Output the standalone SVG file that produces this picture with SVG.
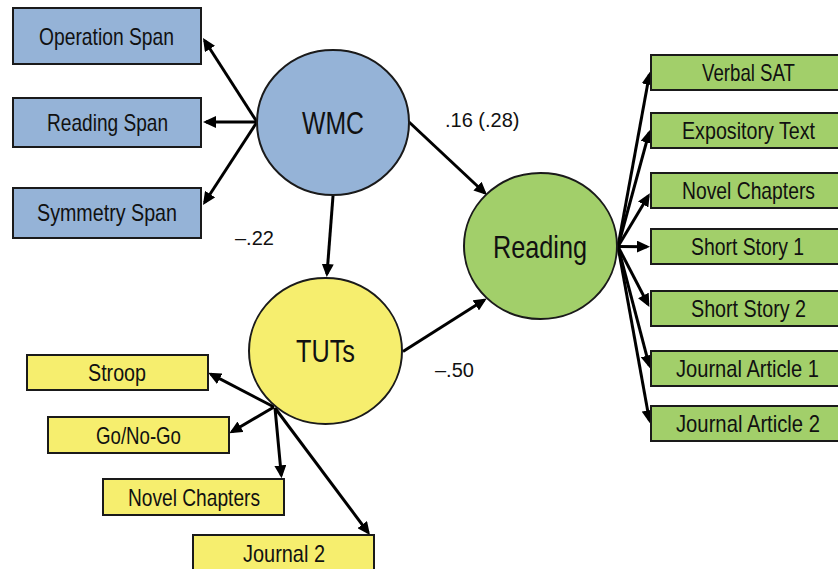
<svg xmlns="http://www.w3.org/2000/svg" width="838" height="569" viewBox="0 0 838 569">
<style>
.box{stroke:#1a1a1a;stroke-width:2}
.blue{fill:#95B3D7}
.yellow{fill:#F6EE6E}
.green{fill:#A2CF6A}
.circ{stroke:#1a1a1a;stroke-width:2}
.lbl{font-family:"Liberation Sans",Arial,sans-serif;font-size:24px;fill:#111}
.big{font-family:"Liberation Sans",Arial,sans-serif;font-size:32px;fill:#111}
.num{font-family:"Liberation Sans",Arial,sans-serif;font-size:20px;fill:#111}
.arr{stroke:#000;stroke-width:3;fill:none;marker-end:url(#ah)}
</style>
<defs>
<marker id="ah" viewBox="0 0 13 12" refX="10" refY="6" markerWidth="13" markerHeight="12" markerUnits="userSpaceOnUse" orient="auto">
<path d="M0,0 L13,6 L0,12 z" fill="#000"/>
</marker>
</defs>
<rect width="838" height="569" fill="#fff"/>
<g id="connectors">
<line class="arr" x1="257" y1="122" x2="204.6" y2="40.5"/>
<line class="arr" x1="257" y1="122" x2="206" y2="122"/>
<line class="arr" x1="257" y1="122" x2="204.6" y2="202.5"/>
<line class="arr" x1="333" y1="196" x2="327" y2="274"/>
<line class="arr" x1="409" y1="122" x2="484.8" y2="193"/>
<line class="arr" x1="403" y1="351.5" x2="484.2" y2="300"/>
<line class="arr" x1="274" y1="407" x2="210.9" y2="374.1"/>
<line class="arr" x1="274" y1="407" x2="231.9" y2="431.8"/>
<line class="arr" x1="275" y1="408" x2="281.3" y2="475.3"/>
<line class="arr" x1="275" y1="408" x2="368.2" y2="532.6"/>
<line class="arr" x1="618" y1="246.5" x2="649.4" y2="74.6"/>
<line class="arr" x1="618" y1="246.5" x2="649" y2="132.9"/>
<line class="arr" x1="618" y1="246.5" x2="648.3" y2="195.9"/>
<line class="arr" x1="618" y1="246.5" x2="647" y2="246.7"/>
<line class="arr" x1="618" y1="246.5" x2="648" y2="304.3"/>
<line class="arr" x1="618" y1="246.5" x2="649.2" y2="365.4"/>
<line class="arr" x1="618" y1="246.5" x2="649.4" y2="420.3"/>
</g>
<g id="wmc">
<ellipse class="circ blue" cx="333" cy="122.5" rx="76" ry="72.5"/>
<text class="big" x="302" y="133.5" textLength="62" lengthAdjust="spacingAndGlyphs">WMC</text>
</g>
<g id="tuts">
<ellipse class="circ yellow" cx="325.5" cy="351" rx="76.5" ry="73"/>
<text class="big" x="296" y="362" textLength="59" lengthAdjust="spacingAndGlyphs">TUTs</text>
</g>
<g id="reading">
<ellipse class="circ green" cx="540.5" cy="246" rx="76.5" ry="73"/>
<text class="big" x="493" y="257.5" textLength="94" lengthAdjust="spacingAndGlyphs">Reading</text>
</g>
<g id="operation-span">
<rect class="box blue" x="13" y="8" width="188" height="56"/>
<text class="lbl" x="39" y="45" textLength="135" lengthAdjust="spacingAndGlyphs">Operation Span</text>
</g>
<g id="reading-span">
<rect class="box blue" x="13" y="98" width="188" height="49"/>
<text class="lbl" x="47" y="131" textLength="121" lengthAdjust="spacingAndGlyphs">Reading Span</text>
</g>
<g id="symmetry-span">
<rect class="box blue" x="13" y="188" width="188" height="50"/>
<text class="lbl" x="37" y="221" textLength="140" lengthAdjust="spacingAndGlyphs">Symmetry Span</text>
</g>
<g id="stroop">
<rect class="box yellow" x="27" y="355" width="181" height="35"/>
<text class="lbl" x="88" y="380.5" textLength="58" lengthAdjust="spacingAndGlyphs">Stroop</text>
</g>
<g id="go-no-go">
<rect class="box yellow" x="48" y="417" width="181" height="36"/>
<text class="lbl" x="96" y="443.5" textLength="85" lengthAdjust="spacingAndGlyphs">Go/No-Go</text>
</g>
<g id="tut-novel-chapters">
<rect class="box yellow" x="103" y="479" width="181" height="36"/>
<text class="lbl" x="128" y="505.5" textLength="132" lengthAdjust="spacingAndGlyphs">Novel Chapters</text>
</g>
<g id="journal-2">
<rect class="box yellow" x="193" y="535" width="181" height="36"/>
<text class="lbl" x="243" y="561.5" textLength="82" lengthAdjust="spacingAndGlyphs">Journal 2</text>
</g>
<g id="verbal-sat">
<rect class="box green" x="651" y="55" width="194" height="35"/>
<text class="lbl" x="702" y="80.5" textLength="93" lengthAdjust="spacingAndGlyphs">Verbal SAT</text>
</g>
<g id="expository-text">
<rect class="box green" x="651" y="113" width="194" height="35"/>
<text class="lbl" x="682" y="138.5" textLength="133" lengthAdjust="spacingAndGlyphs">Expository Text</text>
</g>
<g id="novel-chapters">
<rect class="box green" x="651" y="173" width="194" height="35"/>
<text class="lbl" x="682" y="198.5" textLength="133" lengthAdjust="spacingAndGlyphs">Novel Chapters</text>
</g>
<g id="short-story-1">
<rect class="box green" x="651" y="229" width="194" height="35"/>
<text class="lbl" x="691" y="255" textLength="113" lengthAdjust="spacingAndGlyphs">Short Story 1</text>
</g>
<g id="short-story-2">
<rect class="box green" x="651" y="291" width="194" height="35"/>
<text class="lbl" x="691" y="316.5" textLength="115" lengthAdjust="spacingAndGlyphs">Short Story 2</text>
</g>
<g id="journal-article-1">
<rect class="box green" x="651" y="351" width="194" height="35"/>
<text class="lbl" x="676" y="376.5" textLength="143" lengthAdjust="spacingAndGlyphs">Journal Article 1</text>
</g>
<g id="journal-article-2">
<rect class="box green" x="651" y="406" width="194" height="35"/>
<text class="lbl" x="676" y="431.5" textLength="144" lengthAdjust="spacingAndGlyphs">Journal Article 2</text>
</g>
<g id="path-labels">
<text class="num" x="445" y="127">.16 (.28)</text>
<text class="num" x="235" y="245">–.22</text>
<text class="num" x="435" y="377">–.50</text>
</g>
</svg>
